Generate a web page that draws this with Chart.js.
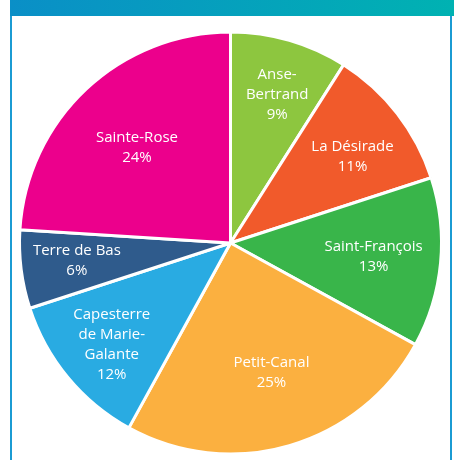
<!DOCTYPE html>
<html>
<head>
<meta charset="utf-8">
<script src="https://cdn.jsdelivr.net/npm/chart.js@4"></script>
<style>
  html, body { margin: 0; padding: 0; background: #fff; }
  body { width: 454px; height: 460px; position: relative; overflow: hidden; }
  .header { position: absolute; left: 10px; top: 0; width: 444px; height: 16px;
    background: linear-gradient(to right, #0a8fc7, #00b2b2); }
  .frame { position: absolute; left: 10px; top: 16px; width: 438px; height: 460px;
    border-left: 2px solid #1b9bd3; border-right: 2px solid #1b9bd3; }
  #wrap { position: absolute; left: 0; top: 0; width: 454px; height: 460px; }
</style>
</head>
<body>
<div class="header"></div>
<div class="frame"></div>
<div id="wrap"><canvas id="myChart"></canvas></div>
<script>
// communes (lignes du libellé) et parts en %
const communes = [
  ['Anse-', 'Bertrand'],
  ['La Désirade'],
  ['Saint-François'],
  ['Petit-Canal'],
  ['Capesterre', 'de Marie-', 'Galante'],
  ['Terre de Bas'],
  ['Sainte-Rose']
];
const parts = [9, 11, 13, 25, 12, 6, 24];
const couleurs = ['#8dc63f', '#f15a2b', '#39b54a', '#fbb040', '#29abe2', '#2f5b8c', '#ec008c'];

// placement des libellés : fraction du rayon, décalage d'angle (degrés)
const labelPlace = [[0.753, 1.0], [0.72, 1.8], [0.685, -1.0], [0.64, -1.6], [0.74, -0.4], [0.737, 1.5], [0.645, -0.6]];

const sliceLabels = {
  id: 'sliceLabels',
  afterDatasetsDraw(chart) {
    const ctx = chart.ctx;
    const meta = chart.getDatasetMeta(0);
    ctx.save();
    ctx.fillStyle = '#ffffff';
    ctx.font = '15px "Open Sans"';
    ctx.textAlign = 'center';
    ctx.textBaseline = 'middle';
    meta.data.forEach((arc, i) => {
      const p = arc.getProps(['x', 'y', 'startAngle', 'endAngle', 'outerRadius'], true);
      const a = (p.startAngle + p.endAngle) / 2 + labelPlace[i][1] * Math.PI / 180;
      const r = (p.outerRadius - 1.5) * labelPlace[i][0];
      const cx = p.x + Math.cos(a) * r;
      const cy = p.y + Math.sin(a) * r + 2.5;
      const lines = communes[i].concat([parts[i] + '%']);
      const lh = 20;
      lines.forEach((t, k) => {
        ctx.fillText(t, cx, cy + (k - (lines.length - 1) / 2) * lh);
      });
    });
    ctx.restore();
  }
};

var chartArea = document.getElementById('myChart').getContext('2d');
var myChart = new Chart(chartArea, {
  type: 'pie',
  data: {
    labels: communes,
    datasets: [{
      data: parts,
      backgroundColor: couleurs,
      borderColor: '#ffffff',
      borderWidth: 3
    }]
  },
  options: {
    responsive: true,
    maintainAspectRatio: false,
    animation: false,
    radius: 211,
    layout: { padding: { left: 17, right: 10, top: 28, bottom: 2 } },
    plugins: {
      legend: { display: false },
      tooltip: { enabled: false }
    }
  },
  plugins: [sliceLabels]
});
</script>
</body>
</html>
